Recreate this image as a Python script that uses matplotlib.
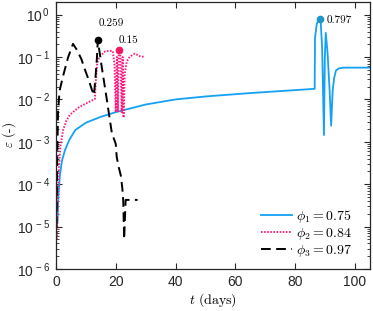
import numpy as np
import matplotlib
matplotlib.use("Agg")
import matplotlib.pyplot as plt
from matplotlib.ticker import FixedLocator, LogLocator, NullFormatter

# ---------------- data (log10 values) ----------------
t1 = [0.5, 0.8, 1.3, 2.0, 3.0, 4.5, 6.5, 10.0, 15.0, 20.0, 30.0, 40.0, 50.0, 65.0, 86.5,
      86.6, 87.2, 88.0, 88.5, 89.0, 89.6, 89.9, 90.2, 90.8, 91.5, 92.0, 92.5, 93.0, 93.6, 94.5, 96.0, 100.0, 105.0]
log_e1 = [-4.9, -4.3, -3.8, -3.45, -3.2, -2.95, -2.72, -2.55, -2.41, -2.3, -2.12, -2.0, -1.93, -1.85, -1.75,
          -0.55, -0.22, -0.08, -0.15, -0.8, -2.84, -1.0, -0.43, -0.9, -1.8, -2.62, -1.8, -1.5, -1.32, -1.27, -1.25, -1.25, -1.25]

t2 = [0.3, 0.6, 1.0, 1.5, 2.4, 3.5, 4.7, 6.5, 8.0, 10.5, 13.0, 13.3, 13.8, 14.5, 16.4, 18.0, 19.0,
      19.6, 20.0, 20.4, 20.7, 21.0, 21.5, 22.0, 22.3, 22.6, 23.0, 23.7, 24.7, 26.4, 28.0, 29.8]
log_e2 = [-5.3, -4.3, -3.6, -3.1, -2.72, -2.5, -2.36, -2.25, -2.17, -2.08, -1.99, -1.6, -1.13, -1.0, -0.87, -0.85, -0.86,
          -1.2, -2.3, -1.0, -2.3, -0.82, -0.9, -2.3, -1.0, -2.43, -1.4, -1.1, -0.99, -0.92, -0.98, -1.0]

t3 = [0.2, 0.4, 0.7, 1.2, 2.3, 4.0, 5.7, 7.0, 8.5, 9.7, 11.0, 12.0, 12.7, 13.2, 13.7, 14.0, 15.3, 17.0, 18.7, 20.0,
      20.3, 21.0, 21.7, 22.2, 22.5, 22.8, 23.3, 25.3, 27.3]
log_e3 = [-5.0, -3.5, -2.3, -1.8, -1.47, -1.02, -0.69, -0.83, -1.05, -1.3, -1.55, -1.77, -1.9, -1.5, -1.02, -0.6, -1.23, -2.0, -2.8, -3.05,
          -3.35, -3.6, -3.8, -4.1, -4.4, -5.3, -4.37, -4.37, -4.37]

peak_t = [88.3, 21.0, 14.0]
peak_val = [0.797, 0.15, 0.259]
peak_text = ["0.797", "0.15", "0.259"]
labels = [r"$\phi_1 = 0.75$", r"$\phi_2 = 0.84$", r"$\phi_3 = 0.97$"]

blue = "#14a0f5"
blue_mk = "#1e96cc"
pink = "#ff1a80"
pink_mk = "#f5145f"
black = "#000000"

xticks = [0, 20, 40, 60, 80, 100]
yexp = [0, -1, -2, -3, -4, -5, -6]

# ---------------- figure ----------------
plt.rcParams["font.family"] = ["Liberation Sans", "DejaVu Sans"]
plt.rcParams["mathtext.fontset"] = "cm"

fig = plt.figure(figsize=(3.73, 3.11), dpi=100)
ax = fig.add_axes([0.150, 0.135, 0.842, 0.859])

e1 = 10 ** np.array(log_e1)
e2 = 10 ** np.array(log_e2)
e3 = 10 ** np.array(log_e3)

ax.plot(t1, e1, color=blue, lw=1.3, label=labels[0])
ax.plot(t2, e2, color=pink, lw=1.4, ls=(0, (0.8, 0.8)), label=labels[1])
ax.plot(t3, e3, color=black, lw=1.4, ls=(0, (5, 2.8)), label=labels[2])

ax.plot([peak_t[0]], [peak_val[0]], "o", color=blue_mk, ms=4.5, zorder=5)
ax.plot([peak_t[1]], [peak_val[1]], "o", color=pink_mk, ms=4.5, zorder=5)
ax.plot([peak_t[2]], [peak_val[2]], "o", color=black, ms=4.5, zorder=5)

ax.annotate(peak_text[0], (peak_t[0], peak_val[0]), xytext=(7, -1), textcoords="offset pixels",
            ha="left", va="center", fontsize=8, fontfamily="cmr10")
ax.annotate(peak_text[1], (peak_t[1], peak_val[1]), xytext=(0, 5), textcoords="offset pixels",
            ha="left", va="bottom", fontsize=8, fontfamily="cmr10")
ax.annotate(peak_text[2], (peak_t[2], peak_val[2]), xytext=(1, 12), textcoords="offset pixels",
            ha="left", va="bottom", fontsize=8, fontfamily="cmr10")

ax.set_yscale("log")
ax.set_xlim(0, 105)
ax.set_ylim(1e-6, 2)

ax.set_xticks(xticks)
ax.set_xticklabels([str(v) for v in xticks])
ax.yaxis.set_major_locator(FixedLocator([10.0 ** e for e in yexp]))
ax.set_yticklabels([r"$\mathregular{10^{\,%d}}$" % e for e in yexp])
ax.yaxis.set_minor_locator(LogLocator(base=10, subs=np.arange(2, 10), numticks=20))
ax.yaxis.set_minor_formatter(NullFormatter())

for s in ax.spines.values():
    s.set_color("#262626")
    s.set_linewidth(0.9)
ax.tick_params(which="both", direction="in", top=True, right=True, colors="#262626",
               labelsize=10, labelcolor="#262626")
ax.tick_params(which="major", length=4, width=0.8)
ax.tick_params(which="minor", length=2, width=0.6)
ax.tick_params(axis="x", pad=4)
ax.tick_params(axis="y", pad=4)

ax.set_xlabel(r"$t\ \mathrm{(days)}$", fontsize=10, labelpad=2)
ax.set_ylabel(r"$\varepsilon$ (-)", fontsize=9.5, fontfamily="cmr10")
ax.yaxis.set_label_coords(-0.12, 0.5)

leg = ax.legend(loc="lower right", bbox_to_anchor=(0.975, 0.0), frameon=False, fontsize=10,
                handlelength=2.25, handletextpad=0.3, labelspacing=0.1, borderaxespad=0.3)

fig.savefig("out.png", dpi=100)
